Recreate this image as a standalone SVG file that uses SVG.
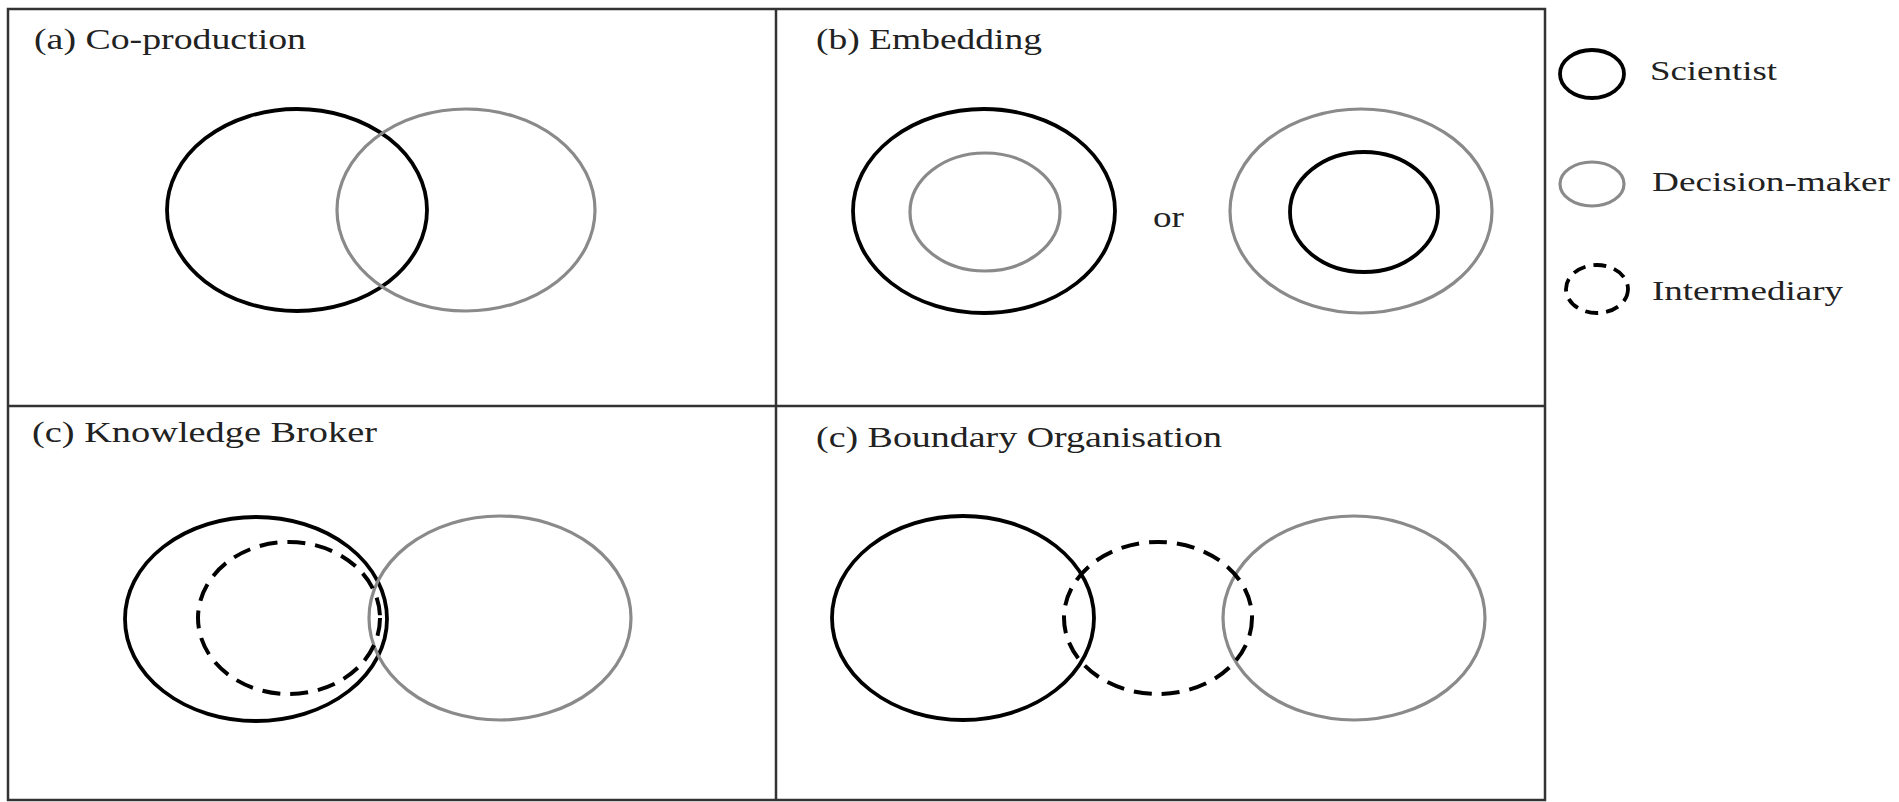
<svg xmlns="http://www.w3.org/2000/svg" width="1899" height="802" viewBox="0 0 1899 802">
<style>
.frame{fill:none;stroke:#333;stroke-width:2.5}
.sci{fill:none;stroke:#000;stroke-width:3.8}
.dm{fill:none;stroke:#8a8a8a;stroke-width:3.2}
.int{fill:none;stroke:#000;stroke-width:4;stroke-dasharray:18 10}
.intl{fill:none;stroke:#000;stroke-width:3.8;stroke-dasharray:13 8}
.t{font-family:"Liberation Serif","Times New Roman",serif;font-size:29px;fill:#222}
.l{font-family:"Liberation Serif","Times New Roman",serif;font-size:28px;fill:#222}
</style>
<rect width="1899" height="802" fill="#fff"/>
<g id="frame">
<rect class="frame" x="8" y="9" width="1537" height="791"/>
<line class="frame" x1="776" y1="9" x2="776" y2="800"/>
<line class="frame" x1="8" y1="406" x2="1545" y2="406"/>
</g>
<g id="panel-a">
<text class="t" x="34" y="49" textLength="272" lengthAdjust="spacingAndGlyphs">(a) Co-production</text>
<ellipse class="sci" cx="297" cy="210" rx="130" ry="101"/>
<ellipse class="dm" cx="466" cy="210" rx="129" ry="101"/>
</g>
<g id="panel-b">
<text class="t" x="816" y="49" textLength="226" lengthAdjust="spacingAndGlyphs">(b) Embedding</text>
<ellipse class="sci" cx="984" cy="211" rx="131" ry="102"/>
<ellipse class="dm" cx="985" cy="212" rx="75" ry="59"/>
<text class="t" x="1153" y="227" textLength="31" lengthAdjust="spacingAndGlyphs">or</text>
<ellipse class="dm" cx="1361" cy="211" rx="131" ry="102"/>
<ellipse class="sci" cx="1364" cy="212" rx="74" ry="60"/>
</g>
<g id="panel-c">
<text class="t" x="32" y="442" textLength="345" lengthAdjust="spacingAndGlyphs">(c) Knowledge  Broker</text>
<ellipse class="sci" cx="256" cy="619" rx="131" ry="102"/>
<ellipse class="dm" cx="500" cy="618" rx="131" ry="102"/>
<ellipse class="int" cx="289" cy="618" rx="91" ry="76"/>
</g>
<g id="panel-d">
<text class="t" x="816" y="447" textLength="406" lengthAdjust="spacingAndGlyphs">(c) Boundary Organisation</text>
<ellipse class="sci" cx="963" cy="618" rx="131" ry="102"/>
<ellipse class="dm" cx="1354" cy="618" rx="131" ry="102"/>
<ellipse class="int" cx="1158" cy="618" rx="94" ry="76"/>
</g>
<g id="legend-scientist">
<ellipse class="sci" cx="1592" cy="74" rx="32" ry="24"/>
<text class="l" x="1650" y="80" textLength="127" lengthAdjust="spacingAndGlyphs">Scientist</text>
</g>
<g id="legend-decision-maker">
<ellipse class="dm" cx="1592" cy="184" rx="32" ry="22"/>
<text class="l" x="1652" y="191" textLength="238" lengthAdjust="spacingAndGlyphs">Decision-maker</text>
</g>
<g id="legend-intermediary">
<ellipse class="intl" cx="1597" cy="289" rx="31" ry="24"/>
<text class="l" x="1652" y="300" textLength="191" lengthAdjust="spacingAndGlyphs">Intermediary</text>
</g>
<g id="connectors"/>
</svg>
